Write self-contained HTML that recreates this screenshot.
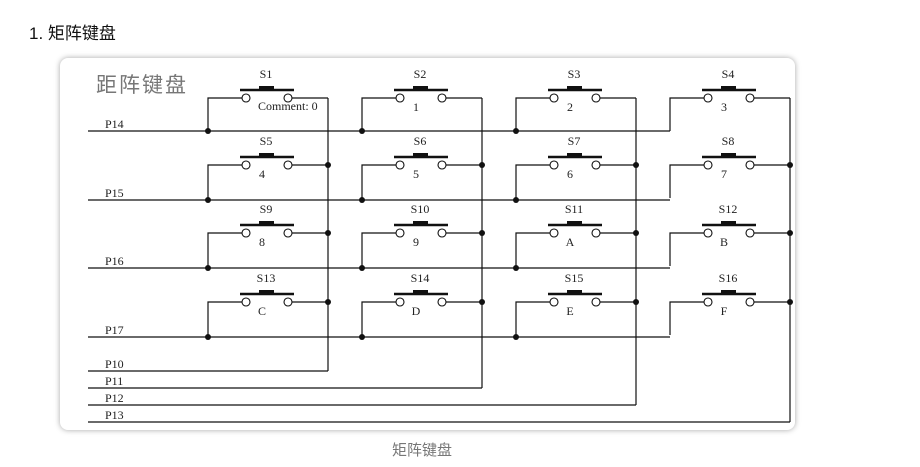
<!DOCTYPE html>
<html><head><meta charset="utf-8"><style>
body{margin:0;background:#fff;width:920px;height:467px;overflow:hidden;position:relative;font-family:"Liberation Sans","Noto Sans CJK SC",sans-serif}
.t{position:absolute;left:29px;top:19px;font-size:17px;color:#111}
.card{position:absolute;left:60px;top:58px;width:735px;height:372px;border-radius:8px;background:#fff;box-shadow:0 0 6px rgba(0,0,0,.35)}
.cap{position:absolute;left:392px;top:439px;font-size:15px;color:#777}
svg{position:absolute;left:0;top:0}
</style></head><body>
<div class="t">1. 矩阵键盘</div>
<div class="card"></div>
<div class="cap">矩阵键盘</div>
<svg width="920" height="467" font-family="Liberation Serif, serif" font-size="12" fill="#222">
<g stroke="#111" stroke-width="1.2" fill="none">
<line x1="88" y1="131" x2="670" y2="131"/><line x1="88" y1="200" x2="670" y2="200"/>
<line x1="88" y1="268" x2="670" y2="268"/><line x1="88" y1="337" x2="670" y2="337"/>
<line x1="88" y1="371" x2="328" y2="371"/><line x1="88" y1="388" x2="482" y2="388"/>
<line x1="88" y1="405" x2="636" y2="405"/><line x1="88" y1="422" x2="790" y2="422"/>
<line x1="328" y1="98" x2="328" y2="371"/><line x1="482" y1="98" x2="482" y2="388"/>
<line x1="636" y1="98" x2="636" y2="405"/><line x1="790" y1="98" x2="790" y2="422"/>
</g>
<defs>
<g id="sw">
<path d="M208 33 V0 H242" stroke="#111" stroke-width="1.2" fill="none"/>
<circle cx="246" cy="0" r="4" stroke="#111" stroke-width="1.1" fill="#fff"/>
<circle cx="288" cy="0" r="4" stroke="#111" stroke-width="1.1" fill="#fff"/>
<line x1="292" y1="0" x2="328" y2="0" stroke="#111" stroke-width="1.2"/>
<line x1="240" y1="-8" x2="294" y2="-8" stroke="#111" stroke-width="2.5"/>
<rect x="259" y="-12" width="15" height="4" fill="#111"/>
</g>
</defs>
<g fill="#111">
<use href="#sw" transform="translate(0,98)"/><use href="#sw" transform="translate(0,165)"/><use href="#sw" transform="translate(0,233)"/><use href="#sw" transform="translate(0,302)"/>
<use href="#sw" transform="translate(154,98)"/><use href="#sw" transform="translate(154,165)"/><use href="#sw" transform="translate(154,233)"/><use href="#sw" transform="translate(154,302)"/>
<use href="#sw" transform="translate(308,98)"/><use href="#sw" transform="translate(308,165)"/><use href="#sw" transform="translate(308,233)"/><use href="#sw" transform="translate(308,302)"/>
<use href="#sw" transform="translate(462,98)"/><use href="#sw" transform="translate(462,165)"/><use href="#sw" transform="translate(462,233)"/><use href="#sw" transform="translate(462,302)"/>
</g>
<g fill="#111">
<circle cx="208" cy="131" r="3"/><circle cx="208" cy="200" r="3"/><circle cx="208" cy="268" r="3"/><circle cx="208" cy="337" r="3"/>
<circle cx="362" cy="131" r="3"/><circle cx="362" cy="200" r="3"/><circle cx="362" cy="268" r="3"/><circle cx="362" cy="337" r="3"/>
<circle cx="516" cy="131" r="3"/><circle cx="516" cy="200" r="3"/><circle cx="516" cy="268" r="3"/><circle cx="516" cy="337" r="3"/>
<circle cx="328" cy="165" r="3"/><circle cx="328" cy="233" r="3"/><circle cx="328" cy="302" r="3"/>
<circle cx="482" cy="165" r="3"/><circle cx="482" cy="233" r="3"/><circle cx="482" cy="302" r="3"/>
<circle cx="636" cy="165" r="3"/><circle cx="636" cy="233" r="3"/><circle cx="636" cy="302" r="3"/>
<circle cx="790" cy="165" r="3"/><circle cx="790" cy="233" r="3"/><circle cx="790" cy="302" r="3"/>
</g>
<g text-anchor="middle">
<text x="266" y="78">S1</text><text x="420" y="78">S2</text><text x="574" y="78">S3</text><text x="728" y="78">S4</text>
<text x="266" y="145">S5</text><text x="420" y="145">S6</text><text x="574" y="145">S7</text><text x="728" y="145">S8</text>
<text x="266" y="213">S9</text><text x="420" y="213">S10</text><text x="574" y="213">S11</text><text x="728" y="213">S12</text>
<text x="266" y="282">S13</text><text x="420" y="282">S14</text><text x="574" y="282">S15</text><text x="728" y="282">S16</text>
<text x="416" y="111">1</text><text x="570" y="111">2</text><text x="724" y="111">3</text>
<text x="262" y="178">4</text><text x="416" y="178">5</text><text x="570" y="178">6</text><text x="724" y="178">7</text>
<text x="262" y="246">8</text><text x="416" y="246">9</text><text x="570" y="246">A</text><text x="724" y="246">B</text>
<text x="262" y="315">C</text><text x="416" y="315">D</text><text x="570" y="315">E</text><text x="724" y="315">F</text>
</g>
<text x="258" y="110" font-size="12">Comment: 0</text>
<g font-size="12">
<text x="105" y="128">P14</text><text x="105" y="197">P15</text><text x="105" y="265">P16</text><text x="105" y="334">P17</text>
<text x="105" y="368">P10</text><text x="105" y="385">P11</text><text x="105" y="402">P12</text><text x="105" y="419">P13</text>
</g>
<text x="96" y="92" font-family="Liberation Sans, Noto Sans CJK SC, sans-serif" font-size="21" fill="#777" letter-spacing="2">距阵键盘</text>
</svg>
</body></html>
